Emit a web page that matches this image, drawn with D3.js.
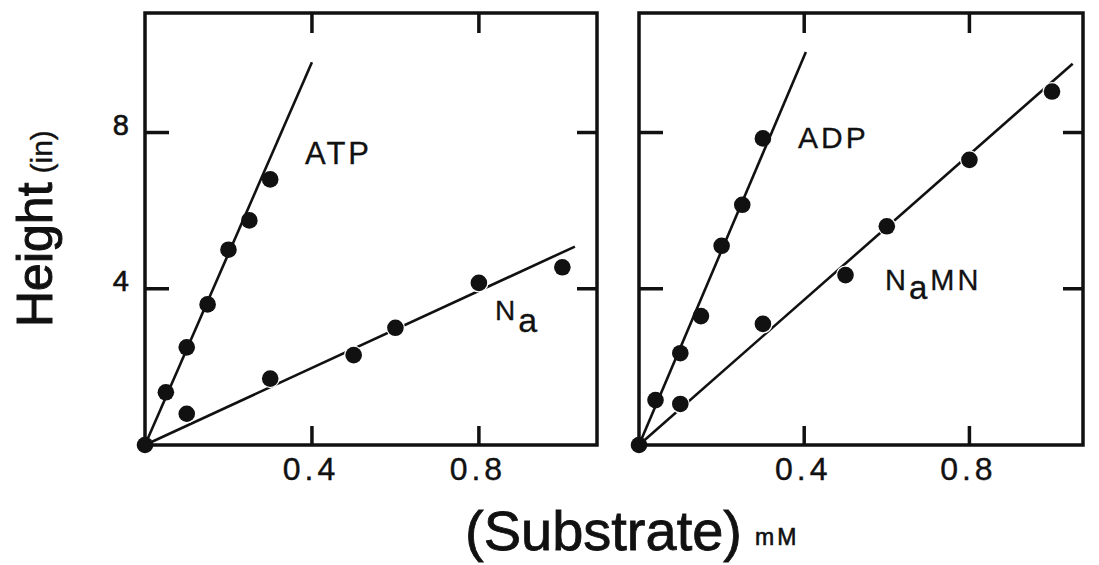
<!DOCTYPE html>
<html>
<head>
<meta charset="utf-8">
<script src="https://cdn.jsdelivr.net/npm/d3@7"></script>
<style>
  html, body { margin: 0; padding: 0; background: #fff; }
  svg { display: block; }
  text { font-family: "Liberation Sans", Arial, sans-serif; fill: #111; stroke: #111; }
</style>
</head>
<body>
<svg id="chart" width="1099" height="565"></svg>
<script>
// Peak height (in) against substrate concentration (mM)
const atpX  = [0, 0.05, 0.10, 0.15, 0.20, 0.25, 0.30];
const atpY  = [0, 1.35, 2.5, 3.6, 5.0, 5.75, 6.8];
const naX   = [0.10, 0.30, 0.50, 0.60, 0.80, 1.00];
const naY   = [0.8, 1.7, 2.3, 3.0, 4.15, 4.55];
const adpX  = [0, 0.04, 0.10, 0.15, 0.20, 0.25, 0.30];
const adpY  = [0, 1.15, 2.35, 3.3, 5.1, 6.15, 7.85];
const namnX = [0.10, 0.30, 0.50, 0.60, 0.80, 1.00];
const namnY = [1.05, 3.1, 4.35, 5.6, 7.3, 9.05];

// Straight-line fits drawn from the origin to these end points
const atpFitEnd  = [0.40, 9.8];
const naFitEnd   = [1.03, 5.08];
const adpFitEnd  = [0.404, 10.06];
const namnFitEnd = [1.05, 9.76];

const xTicks = [0.4, 0.8];
const xTickLabels = ["0.4", "0.8"];
const yTicks = [4, 8];
const yTickLabels = ["4", "8"];

const svg = d3.select("#chart");
const ink = "#111";

const yScale = d3.scaleLinear().domain([0, 11.06]).range([445, 13]);

const panels = [
  {
    x: d3.scaleLinear().domain([0, 1.083]).range([145, 597]),
    series: [
      { xs: atpX, ys: atpY, fit: atpFitEnd, halo: false },
      { xs: naX,  ys: naY,  fit: naFitEnd,  halo: true }
    ],
    yLabels: true
  },
  {
    x: d3.scaleLinear().domain([0, 1.075]).range([639, 1083]),
    series: [
      { xs: adpX,  ys: adpY,  fit: adpFitEnd,  halo: false },
      { xs: namnX, ys: namnY, fit: namnFitEnd, halo: true }
    ],
    yLabels: false
  }
];

panels.forEach(p => {
  const g = svg.append("g");
  const [x0, x1] = p.x.range();
  const [yb, yt] = yScale.range();

  // frame
  g.append("rect")
    .attr("x", x0).attr("y", yt)
    .attr("width", x1 - x0).attr("height", yb - yt)
    .attr("fill", "none").attr("stroke", ink).attr("stroke-width", 3.5);

  // inward ticks on all four sides
  yTicks.forEach(t => {
    const y = yScale(t);
    g.append("line").attr("x1", x0).attr("x2", x0 + 24).attr("y1", y).attr("y2", y)
      .attr("stroke", ink).attr("stroke-width", 3.5);
    g.append("line").attr("x1", x1).attr("x2", x1 - 20).attr("y1", y).attr("y2", y)
      .attr("stroke", ink).attr("stroke-width", 3.5);
  });
  xTicks.forEach(t => {
    const x = p.x(t);
    g.append("line").attr("x1", x).attr("x2", x).attr("y1", yb).attr("y2", yb - 19)
      .attr("stroke", ink).attr("stroke-width", 3.5);
    g.append("line").attr("x1", x).attr("x2", x).attr("y1", yt).attr("y2", yt + 20)
      .attr("stroke", ink).attr("stroke-width", 3.5);
  });

  // x tick labels
  xTicks.forEach((t, i) => {
    g.append("text")
      .attr("x", p.x(t) - 1).attr("y", 480)
      .attr("text-anchor", "middle")
      .attr("font-size", 32)
      .attr("stroke-width", 0.4)
      .attr("letter-spacing", 4)
      .text(xTickLabels[i]);
  });

  // y tick labels (left panel only)
  if (p.yLabels) {
    yTicks.forEach((t, i) => {
      g.append("text")
        .attr("x", 129).attr("y", yScale(t) + 2)
        .attr("text-anchor", "end")
        .attr("font-size", 29)
        .attr("stroke-width", 0.6)
        .text(yTickLabels[i]);
    });
  }

  const line = d3.line().x(d => p.x(d[0])).y(d => yScale(d[1]));

  p.series.forEach(s => {
    g.append("path")
      .attr("d", line([[0, 0], s.fit]))
      .attr("fill", "none").attr("stroke", ink).attr("stroke-width", 2.6);
  });

  p.series.forEach(s => {
    const pts = s.xs.map((v, i) => [v, s.ys[i]]);
    g.selectAll(null).data(pts).enter().append("circle")
      .attr("cx", d => p.x(d[0]))
      .attr("cy", d => yScale(d[1]))
      .attr("r", 8.3)
      .attr("fill", ink)
      .attr("stroke", s.halo ? "#fff" : "none")
      .attr("stroke-width", s.halo ? 2.5 : 0)
      .attr("paint-order", "stroke");
  });
});

// series names
const lab = (x, y, parts) => {
  const t = svg.append("text").attr("x", x).attr("y", y)
    .attr("font-size", 30).attr("letter-spacing", 3)
    .attr("stroke-width", 0.3);
  parts.forEach(pt => {
    t.append("tspan").attr("dy", pt.dy || 0)
      .attr("font-size", pt.size || 29).text(pt.s);
  });
};
lab(305, 164, [{ s: "ATP", size: 31 }]);
lab(495, 320, [{ s: "N", size: 28 }, { s: "a", dy: 12, size: 34 }]);
lab(798, 148, [{ s: "ADP", size: 30 }]);
lab(885, 290, [{ s: "N", size: 29 }, { s: "a", dy: 9, size: 33 }, { s: "MN", dy: -9, size: 29 }]);

// axis titles
const yTitle = svg.append("text")
  .attr("transform", "translate(52,327) rotate(-90)")
  .attr("font-size", 50)
  .attr("stroke-width", 1);
yTitle.append("tspan").text("Height");
yTitle.append("tspan").attr("dx", 9).attr("font-size", 30).attr("stroke-width", 0.4).text("(in)");

svg.append("text")
  .attr("x", 465).attr("y", 550)
  .attr("font-size", 56)
  .attr("stroke-width", 0.8)
  .text("(Substrate)");
svg.append("text")
  .attr("x", 755).attr("y", 545)
  .attr("font-size", 23)
  .attr("letter-spacing", 3)
  .attr("stroke-width", 0.6)
  .text("mM");
</script>
</body>
</html>
